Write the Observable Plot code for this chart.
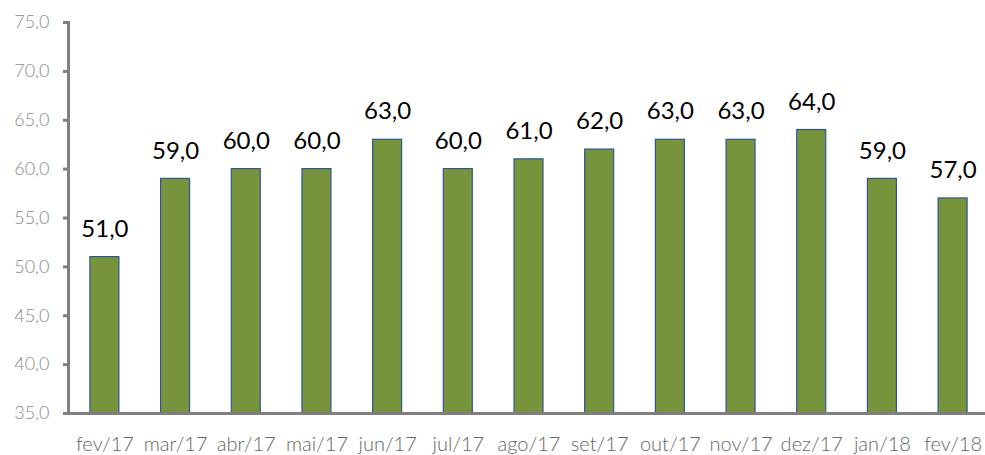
<!DOCTYPE html>
<html>
<head>
<meta charset="utf-8">
<script src="https://cdn.jsdelivr.net/npm/d3@7"></script>
<script src="https://cdn.jsdelivr.net/npm/@observablehq/plot@0.6"></script>
<style>
  html, body { margin: 0; padding: 0; background: #fff; }
  #chart svg { display: block; }
</style>
</head>
<body>
<div id="chart"></div>
<script>
const months = ["fev/17","mar/17","abr/17","mai/17","jun/17","jul/17","ago/17","set/17","out/17","nov/17","dez/17","jan/18","fev/18"];
const values = [51, 59, 60, 60, 63, 60, 61, 62, 63, 63, 64, 59, 57];
const yTicks = [35, 40, 45, 50, 55, 60, 65, 70, 75];

const data = months.map((m, i) => ({month: m, value: values[i]}));
const fmt = v => d3.format(".1f")(v).replace(".", ",");
const font = "'Lato', 'Open Sans', sans-serif";

const chart = Plot.plot({
  width: 985,
  height: 455,
  marginLeft: 68,
  marginRight: 0,
  marginTop: 22,
  marginBottom: 42,
  style: {fontFamily: font, background: "#fff"},
  x: {domain: months, range: [68, 989], round: false, paddingInner: 0.59, paddingOuter: 0.31, label: null},
  y: {domain: [35, 75], label: null},
  marks: [
    Plot.barY(data, {x: "month", y1: 35, y2: "value", fill: "#77933C", stroke: "#2F5597", strokeWidth: 1.2}),
    Plot.text(data, {x: "month", y: "value", text: d => fmt(d.value), dy: -28, fontSize: 24, fill: "#000", fontFamily: font}),
    Plot.ruleY([35], {stroke: "#808080", strokeWidth: 3}),
    Plot.frame({anchor: "left", stroke: "#808080", strokeWidth: 3}),
    Plot.axisY({ticks: yTicks, tickFormat: fmt, tickSize: 5, tickPadding: 14, stroke: "#808080", strokeWidth: 3, fill: "#8a8a8a", fontSize: 18, fontWeight: 300, fontFamily: font, label: null}),
    Plot.axisX({tickSize: 0, tickPadding: 23, fill: "#666666", fontSize: 20, fontWeight: 300, fontFamily: font, label: null})
  ]
});
document.getElementById("chart").appendChild(chart);
</script>
</body>
</html>
